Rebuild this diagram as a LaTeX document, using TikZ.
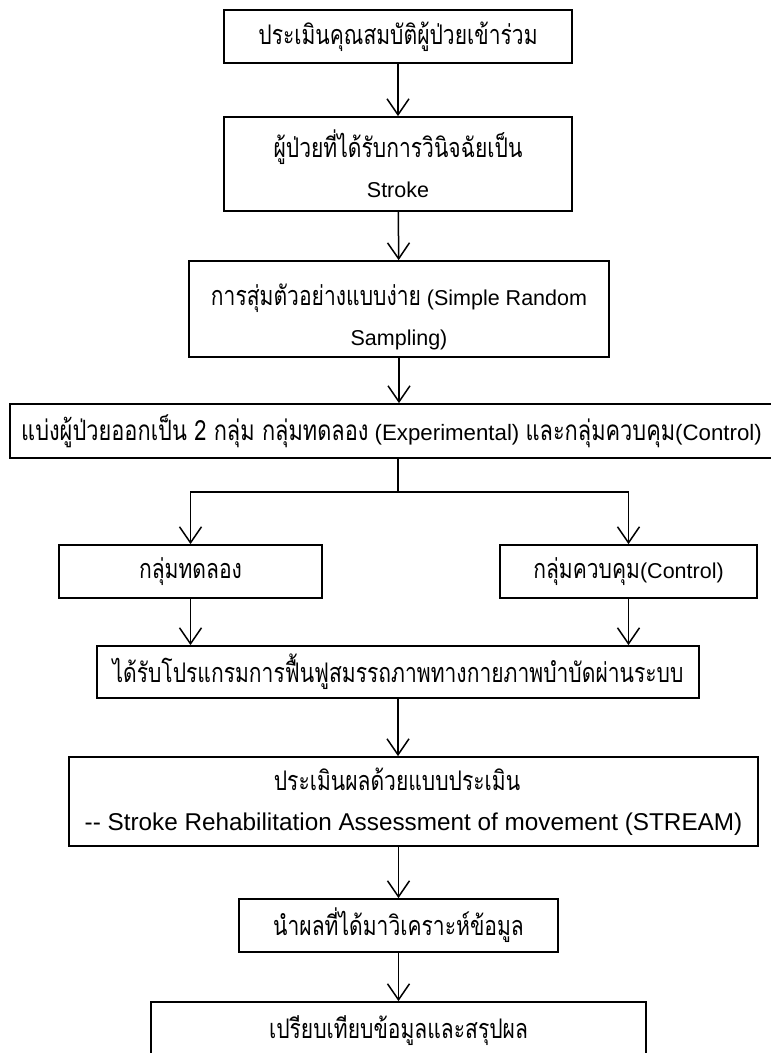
\documentclass[tikz,border=0pt]{standalone}
\usepackage{fontspec}
\setmainfont{Liberation Sans}
\newfontfamily\thaifnt[Script=Thai,FakeStretch=0.78]{Loma}
\usetikzlibrary{arrows.meta}
\newcommand\thtxt[1]{{\thaifnt\fontsize{27}{40}\selectfont #1}}
\begin{document}
\begin{tikzpicture}[x=1pt,y=-1pt,
  box/.style={draw, line width=1.8pt, inner sep=0pt, align=center, font=\fontsize{21.5}{40}\selectfont},
  lbl/.style={inner sep=0pt, align=center, font=\fontsize{21.5}{40}\selectfont},
  arr/.style={line width=1.5pt, -{Straight Barb[length=16pt,width=22pt,line width=1.5pt]}},
  conn/.style={line width=1.5pt}]
\useasboundingbox (0,0) rectangle (771,1053);
\clip (0,0) rectangle (771,1053);
\node[box, minimum width=348pt, minimum height=53pt] (n1) at (398,36.5) {\thtxt{ประเมินคุณสมบัติผู้ป่วยเข้าร่วม}};
\node[box, minimum width=348pt, minimum height=94pt] (n2) at (398,164) {\thtxt{ผู้ป่วยที่ได้รับการวินิจฉัยเป็น}\\Stroke};
\node[box, minimum width=420pt, minimum height=96pt,
  label={[lbl, name=n3t, yshift=-8pt]center:{\thtxt{การสุ่มตัวอย่างแบบง่าย} (Simple Random\\Sampling)}}] (n3) at (399,309) {};
\node[box, minimum width=776pt, minimum height=54pt] (n4) at (398,431) {\scalebox{1.035}{\thtxt{แบ่งผู้ป่วยออกเป็น 2 กลุ่ม กลุ่มทดลอง} (Experimental) \thtxt{และกลุ่มควบคุม}(Control)}\hspace*{13pt}};
\coordinate (fork) at (398,492);
\node[box, minimum width=263pt, minimum height=53pt] (n5) at (190.5,571.5) {\thtxt{กลุ่มทดลอง}};
\node[box, minimum width=257pt, minimum height=53pt] (n6) at (628.5,571.5) {\thtxt{กลุ่มควบคุม}(Control)};
\node[box, minimum width=602pt, minimum height=52pt] (n7) at (398,672) {\thtxt{ได้รับโปรแกรมการฟื้นฟูสมรรถภาพทางกายภาพบำบัดผ่านระบบ}};
\node[box, minimum width=689pt, minimum height=89pt] (n8) at (413.5,801.5) {\thtxt{ประเมินผลด้วยแบบประเมิน}\hspace*{33pt}\\{\fontsize{24.3}{40}\selectfont -{}- Stroke Rehabilitation Assessment of movement (STREAM)}};
\node[box, minimum width=319pt, minimum height=53pt] (n9) at (398.5,925.5) {\thtxt{นำผลที่ได้มาวิเคราะห์ข้อมูล}};
\node[box, minimum width=495pt, minimum height=58pt] (n10) at (398.5,1031) {\thtxt{เปรียบเทียบข้อมูลและสรุปผล}};
\draw[arr] (n1) -- (n2);
\draw[arr] (n2) -- (n3);
\draw[arr] (n3.south) -- (n3.south |- n4.north);
\draw[conn] (n4.south) -- (fork);
\draw[arr] (fork) -| (n5.north);
\draw[arr] (fork) -| (n6.north);
\draw[arr] (n5.south) -- (n5.south |- n7.north);
\draw[arr] (n6.south) -- (n6.south |- n7.north);
\draw[arr] (n7.south) -- (n7.south |- n8.north);
\draw[arr] (n9.north |- n8.south) -- (n9.north);
\draw[arr] (n9.south) -- (n9.south |- n10.north);
\end{tikzpicture}
\end{document}
